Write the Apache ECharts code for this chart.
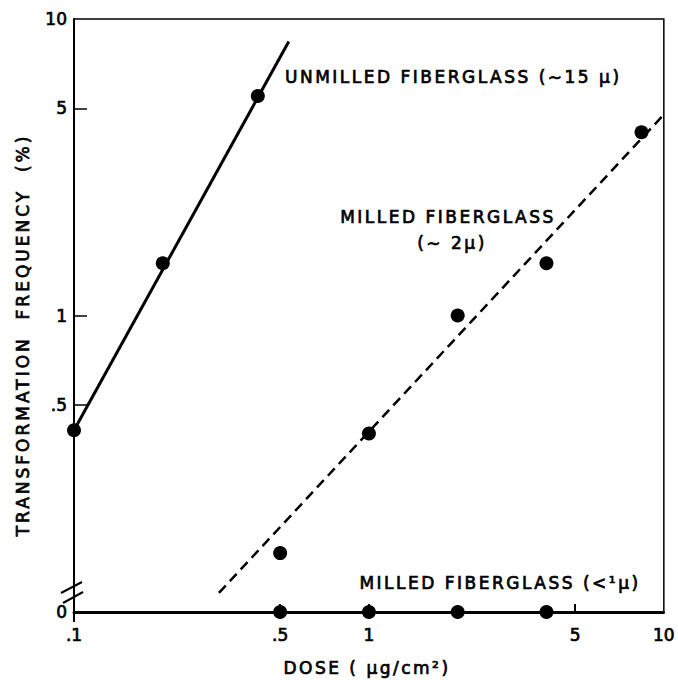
<!DOCTYPE html>
<html>
<head>
<meta charset="utf-8">
<script src="https://cdn.jsdelivr.net/npm/echarts@6/dist/echarts.min.js"></script>
<style>
html,body{margin:0;padding:0;background:#fff;}
#c{width:678px;height:680px;}
</style>
</head>
<body>
<div id="c"></div>
<script>
// ---- data ----
const unmilledDose = [0.1, 0.2, 0.42];
const unmilledFreq = [0.41, 1.5, 5.5];
const unmilledFitDose = [0.1, 0.535];
const unmilledFitFreq = [0.41, 8.4];

const milledDose = [0.5, 1, 2, 4, 8.4];
const milledFreq = [0.158, 0.40, 1.0, 1.5, 4.15];
const milledFitDose = [0.31, 10];
const milledFitFreq = [0.116, 4.76];

const fineDose = [0.5, 1, 2, 4];
const fineFreq = [0, 0, 0, 0];

const xTickValues = [0.1, 0.5, 1, 5, 10];
const xTickLabels = ['.1', '.5', '1', '5', '10'];
const yTickValues = [0.1, 0.5, 1, 5, 10];   // 0.1 = axis floor, labelled "0" (axis break)
const yTickLabels = ['0', '.5', '1', '5', '10'];
const yAxisMin = 0.1, yAxisMax = 10, xAxisMin = 0.1, xAxisMax = 10;

const FONT = '"DejaVu Sans", sans-serif';

function lookup(vals, labels) {
  return function (v) {
    for (let i = 0; i < vals.length; i++) {
      if (Math.abs(Math.log10(v) - Math.log10(vals[i])) < 1e-6) return labels[i];
    }
    return '';
  };
}
function pairs(xs, ys) { return xs.map((x, i) => [x, ys[i] === 0 ? yAxisMin : ys[i]]); }

const chart = echarts.init(document.getElementById('c'), null, {renderer: 'svg'});

const labelStyle = {color: '#000', fontSize: 17, fontFamily: FONT, textBorderColor: '#000', textBorderWidth: 0.7};
const option = {
  animation: false,
  backgroundColor: '#fff',
  grid: {left: 74, right: 8, top: 19, bottom: 68, show: true, borderColor: '#000', borderWidth: 1.5},
  xAxis: {
    type: 'log', logBase: 10, min: xAxisMin, max: xAxisMax,
    axisLine: {show: true, onZero: false, lineStyle: {color: '#000', width: 3, type: [1.5, 1.5]}},
    axisTick: {show: true, inside: true, length: 8, lineStyle: {color: '#000', width: 2}, customValues: [0.5, 1, 5]},
    minorTick: {show: false},
    axisLabel: Object.assign({customValues: xTickValues, formatter: lookup(xTickValues, xTickLabels), margin: 14}, labelStyle),
    splitLine: {show: false}
  },
  yAxis: {
    type: 'log', logBase: 10, min: yAxisMin, max: yAxisMax,
    axisLine: {show: true, onZero: false, lineStyle: {color: '#000', width: 2}},
    axisTick: {show: true, inside: true, length: 13, lineStyle: {color: '#000', width: 1.5}, customValues: [0.5, 1, 5]},
    minorTick: {show: false},
    axisLabel: Object.assign({customValues: yTickValues, formatter: lookup(yTickValues, yTickLabels), margin: 7}, labelStyle),
    splitLine: {show: false}
  },
  series: [
    {type: 'line', data: pairs(unmilledFitDose, unmilledFitFreq), showSymbol: false, symbol: 'none',
      lineStyle: {color: '#000', width: 3}, z: 3},
    {type: 'line', data: pairs(milledFitDose, milledFitFreq), showSymbol: false, symbol: 'none',
      lineStyle: {color: '#000', width: 2.5, type: [10, 6]}, z: 3},
    {type: 'scatter', data: pairs(unmilledDose, unmilledFreq), symbol: 'circle', symbolSize: 14,
      itemStyle: {color: '#000', opacity: 1}, z: 5, clip: false},
    {type: 'scatter', data: pairs(milledDose, milledFreq), symbol: 'circle', symbolSize: 14,
      itemStyle: {color: '#000', opacity: 1}, z: 5, clip: false},
    {type: 'scatter', data: pairs(fineDose, fineFreq), symbol: 'circle', symbolSize: 14,
      itemStyle: {color: '#000', opacity: 1}, z: 5, clip: false}
  ]
};
chart.setOption(option);

// annotations and axis-break marks
const o = chart.convertToPixel({gridIndex: 0}, [xAxisMin, yAxisMin]);
const ox = o[0], oy = o[1];
function txt(text, x, y, align, extra) {
  return Object.assign({type: 'text', x: x, y: y, z: 100,
    style: {text: text, font: '17px ' + FONT, fill: '#000', stroke: '#000', lineWidth: 0.7,
      align: align || 'left', verticalAlign: 'middle'}}, extra || {});
}
chart.setOption({
  graphic: [
    txt('UNMILLED FIBERGLASS (∼15 μ)', 285, 77, 'left'),
    txt('MILLED FIBERGLASS', 448, 217, 'center'),
    txt('(∼ 2μ)', 452, 243, 'center'),
    txt('MILLED FIBERGLASS (<¹μ)', 500, 583, 'center'),
    txt('DOSE ( μg/cm²)', 367, 668, 'center'),
    txt('TRANSFORMATION  FREQUENCY  (%)', 23, 335, 'center', {rotation: Math.PI / 2}),
    {type: 'line', z: 100, shape: {x1: ox - 13, y1: oy - 19, x2: ox + 8, y2: oy - 30}, style: {stroke: '#000', lineWidth: 2}},
    {type: 'line', z: 100, shape: {x1: ox - 11, y1: oy - 9, x2: ox + 9, y2: oy - 20}, style: {stroke: '#000', lineWidth: 2}},
    {type: 'line', z: 100, shape: {x1: ox, y1: oy, x2: ox, y2: oy + 10}, style: {stroke: '#000', lineWidth: 2}}
  ]
});

function spacing() {
  document.querySelectorAll('#c svg text').forEach(function (t) {
    const s = t.textContent || '';
    let ls = 0;
    if (s.indexOf('TRANSFORMATION') >= 0) ls = 3;
    else if (s.indexOf('FIBERGLASS') >= 0) ls = 2.5;
    else if (s.indexOf('DOSE') >= 0) ls = 2.5;
    else if (s.indexOf('μ') >= 0) ls = 2.5;
    if (ls) t.setAttribute('letter-spacing', ls + 'px');
  });
}
spacing();
chart.on('finished', spacing);
setTimeout(spacing, 50);
</script>
</body>
</html>
